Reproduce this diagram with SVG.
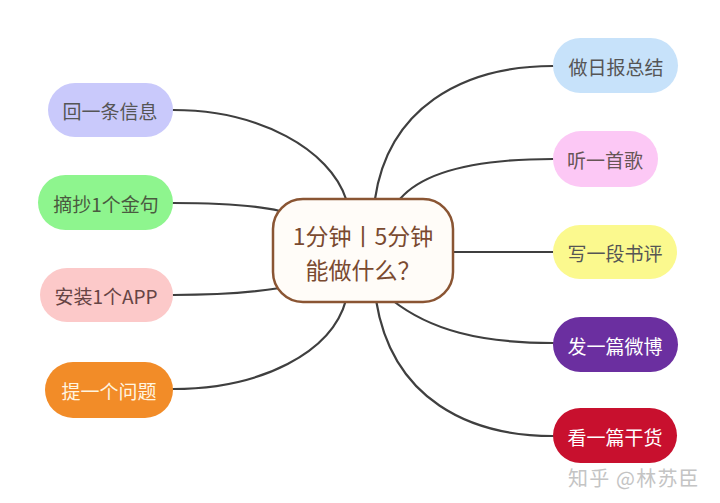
<svg xmlns="http://www.w3.org/2000/svg" width="720" height="503" viewBox="0 0 720 503">
<style>
.link{fill:none;stroke:#3f3f3f;stroke-width:2.2;stroke-linecap:round}
.t{font-family:"Noto Sans CJK SC","Noto Sans",sans-serif;font-size:19px;text-anchor:middle;dominant-baseline:central}
.c{font-family:"Noto Sans CJK SC","Noto Sans",sans-serif;font-size:23px;text-anchor:middle;dominant-baseline:central;fill:#7a4a30}
</style>
<rect width="720" height="503" fill="#ffffff"/>
<g id="connectors">
<path class="link" d="M173,110 C260,110 330,150 346,199"/>
<path class="link" d="M173,203 C220,203 258,206 280,211"/>
<path class="link" d="M173,295 C220,295 255,292 280,288"/>
<path class="link" d="M173,389 C262,389 332,352 346,300"/>
<path class="link" d="M553,66 C460,66 388,110 375,199"/>
<path class="link" d="M553,159 C480,159 425,170 400,199"/>
<path class="link" d="M453,252 L553,252"/>
<path class="link" d="M392,300 C430,330 480,343 553,343"/>
<path class="link" d="M376,300 C392,400 470,436 553,436"/>
</g>
<g id="center">
<rect x="273" y="199" width="180" height="103" rx="30" fill="#fffcf8" stroke="#8a5533" stroke-width="2.5"/>
<text class="c" x="363" y="235" font-size="24">1分钟丨5分钟</text>
<text class="c" x="363" y="269" font-family="Noto Sans CJK TC, Noto Sans CJK SC, sans-serif">能做什么？</text>
</g>
<g id="n1">
<rect x="48" y="83" width="125" height="54" rx="27" fill="#c9c9fb"/>
<text class="t" x="110" y="110" fill="#555555">回一条信息</text>
</g>
<g id="n2">
<rect x="38" y="175" width="135" height="55" rx="27.5" fill="#8ef58e"/>
<text class="t" x="106" y="203" fill="#4a5a40">摘抄1个金句</text>
</g>
<g id="n3">
<rect x="40" y="268" width="133" height="54" rx="27" fill="#fcc9c9"/>
<text class="t" x="106" y="295" fill="#664444">安装1个APP</text>
</g>
<g id="n4">
<rect x="45" y="362" width="128" height="56" rx="28" fill="#f28c28"/>
<text class="t" x="109" y="390" fill="#fff5e0">提一个问题</text>
</g>
<g id="n5">
<rect x="553" y="38" width="125" height="55" rx="27.5" fill="#c7e2fa"/>
<text class="t" x="616" y="66" fill="#555555">做日报总结</text>
</g>
<g id="n6">
<rect x="553" y="131" width="105" height="56" rx="28" fill="#fcc8f5"/>
<text class="t" x="605" y="159" fill="#665555">听一首歌</text>
</g>
<g id="n7">
<rect x="553" y="225" width="124" height="54" rx="27" fill="#fbf98e"/>
<text class="t" x="615" y="252" fill="#555555">写一段书评</text>
</g>
<g id="n8">
<rect x="553" y="317" width="125" height="55" rx="27.5" fill="#6b2fa0"/>
<text class="t" x="615" y="345" fill="#ffffff">发一篇微博</text>
</g>
<g id="n9">
<rect x="553" y="408" width="124" height="55" rx="27.5" fill="#c8102e"/>
<text class="t" x="615" y="436" fill="#ffffff">看一篇干货</text>
</g>
<text x="568" y="477" font-family="Noto Sans CJK SC,Noto Sans,sans-serif" font-size="20" letter-spacing="1.2" fill="#c4c4c4" dominant-baseline="central">知乎 @林苏臣</text>
</svg>
